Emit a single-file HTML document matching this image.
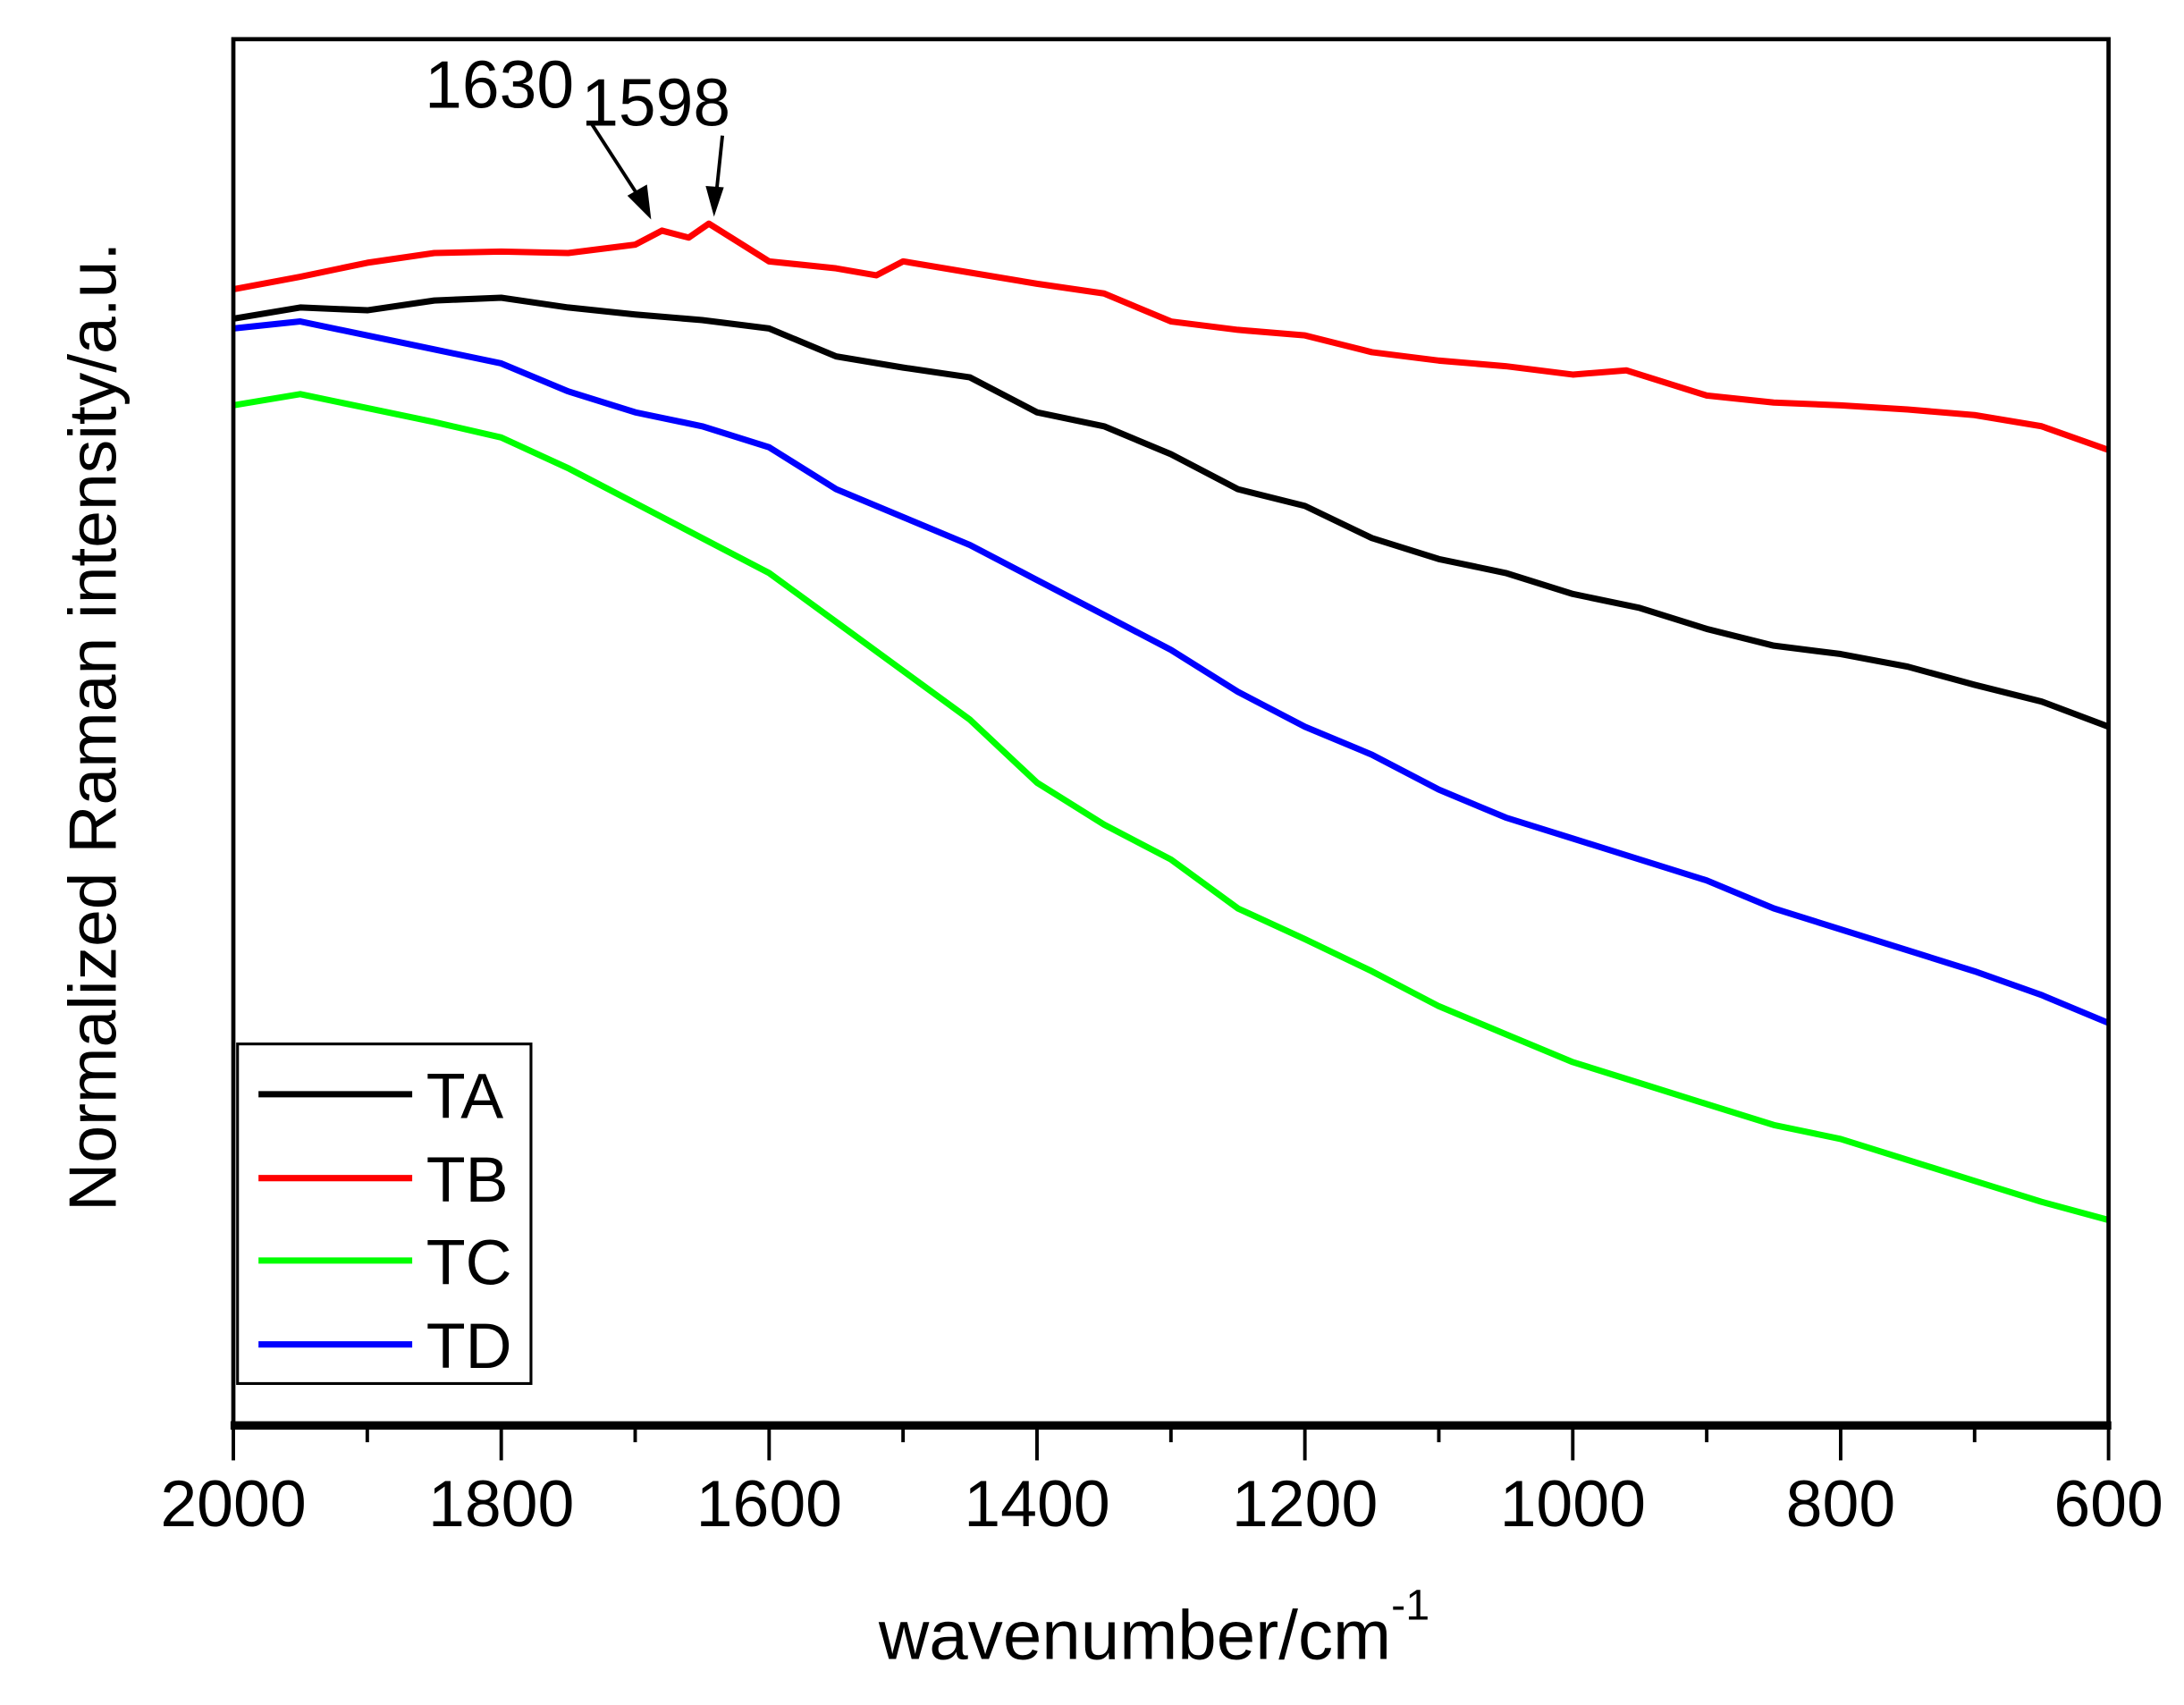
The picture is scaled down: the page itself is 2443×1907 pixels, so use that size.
<!DOCTYPE html>
<html><head><meta charset="utf-8"><style>
html,body{margin:0;padding:0;background:#fff;}
svg{display:block;}
text{font-family:"Liberation Sans",Arial,sans-serif;fill:#000;}
</style></head><body>
<svg id="chart" width="2443" height="1907" viewBox="0 0 1563 1220" xmlns="http://www.w3.org/2000/svg">
<rect x="0" y="0" width="1563" height="1220" fill="#fff"/>
<g id="series"></g>
<rect x="167" y="28" width="1342" height="992" fill="none" stroke="#000" stroke-width="3"/>
<line x1="165" y1="1020" x2="1511" y2="1020" stroke="#000" stroke-width="6"/>
<g id="xticks"></g>
<text x="826" y="1187" font-size="50" text-anchor="middle">wavenumber/cm<tspan dy="-28" font-size="31">-1</tspan></text>
<text transform="translate(83,520) rotate(-90)" font-size="48" text-anchor="middle">Normalized Raman intensity/a.u.</text>
<text x="304" y="77" font-size="48">1630</text>
<text x="416" y="90" font-size="48">1598</text>
<g>
<line x1="423" y1="88" x2="458" y2="142" stroke="#000" stroke-width="2.5"/>
<polygon points="466,157 449,140 463,132" fill="#000"/>
</g>
<g>
<line x1="517" y1="97" x2="513" y2="135" stroke="#000" stroke-width="2.5"/>
<polygon points="511,155 505,133 518,134" fill="#000"/>
</g>
<g>
<rect x="170" y="747" width="210" height="243" fill="#fff" stroke="#000" stroke-width="2"/>
<g><line x1="185" y1="783" x2="295" y2="783" stroke="#000" stroke-width="4.5"/><text x="305" y="800" font-size="46">TA</text></g>
<g><line x1="185" y1="843" x2="295" y2="843" stroke="#ff0000" stroke-width="4.5"/><text x="305" y="860" font-size="46">TB</text></g>
<g><line x1="185" y1="902" x2="295" y2="902" stroke="#00ff00" stroke-width="4.5"/><text x="305" y="919" font-size="46">TC</text></g>
<g><line x1="185" y1="962" x2="295" y2="962" stroke="#0000ff" stroke-width="4.5"/><text x="305" y="979" font-size="46">TD</text></g>
</g>
</svg>
<script>
const tickValues = [2000,1800,1600,1400,1200,1000,800,600];
const minorTicks = [1900,1700,1500,1300,1100,900,700];
const wnTB = [2000,1950,1900,1850,1800,1750,1700,1680,1660,1645,1620,1600,1550,1520,1500,1450,1400,1350,1300,1250,1200,1150,1100,1050,1000,960,900,850,800,750,700,650,600];
const valTB = [813,822,832,839,840,839,845,855,850,860,845,833,828,823,833,825,817,810,790,784,780,768,762,758,752,755,737,732,730,727,723,715,698];
const wn = [2000,1950,1900,1850,1800,1750,1700,1650,1600,1550,1500,1450,1400,1350,1300,1250,1200,1150,1100,1050,1000,950,900,850,800,750,700,650,600];
const valTA = [792,800,798,805,807,800,795,791,785,765,757,750,725,715,695,670,658,635,620,610,595,585,570,558,552,543,530,518,500];
const valTD = [785,790,780,770,760,740,725,715,700,670,650,630,605,580,555,525,500,480,455,435,420,405,390,370,355,340,325,308,288];
const valTC = [730,738,728,718,707,685,660,635,610,575,540,505,460,430,405,370,348,325,300,280,260,245,230,215,205,190,175,160,147];

const X0=167, X1=1509, Y0=1020, Y1=28;
function xScale(w){ return X0 + (2000 - w) * (X1 - X0) / 1400; }
function yScale(v){ return Y0 - v * (Y0 - Y1) / 992; }
const NS='http://www.w3.org/2000/svg';
const sg=document.getElementById('series');
function drawLine(xs, ys, color, name){
  const p=document.createElementNS(NS,'polyline');
  p.setAttribute('points', xs.map((w,i)=>xScale(w).toFixed(1)+','+yScale(ys[i]).toFixed(1)).join(' '));
  p.setAttribute('fill','none');
  p.setAttribute('stroke',color);
  p.setAttribute('stroke-width','4.5');
  p.setAttribute('stroke-linejoin','round');
  
  
  sg.appendChild(p);
}
drawLine(wnTB, valTB, '#ff0000', 'series-tb');
drawLine(wn, valTA, '#000000', 'series-ta');
drawLine(wn, valTD, '#0000ff', 'series-td');
drawLine(wn, valTC, '#00ff00', 'series-tc');

const tg=document.getElementById('xticks');
tickValues.forEach(v=>{
  const l=document.createElementNS(NS,'line');
  l.setAttribute('x1',xScale(v));l.setAttribute('x2',xScale(v));
  l.setAttribute('y1',1020);l.setAttribute('y2',1045);
  l.setAttribute('stroke','#000');l.setAttribute('stroke-width','2.5');
  
  
  tg.appendChild(l);
  const t=document.createElementNS(NS,'text');
  t.setAttribute('x',xScale(v));t.setAttribute('y',1092);
  t.setAttribute('font-size','47');t.setAttribute('text-anchor','middle');
  t.textContent=v;
  
  
  tg.appendChild(t);
});
minorTicks.forEach(v=>{
  const l=document.createElementNS(NS,'line');
  l.setAttribute('x1',xScale(v));l.setAttribute('x2',xScale(v));
  l.setAttribute('y1',1020);l.setAttribute('y2',1032);
  l.setAttribute('stroke','#000');l.setAttribute('stroke-width','2.5');
  
  
  tg.appendChild(l);
});
</script>
</body></html>
